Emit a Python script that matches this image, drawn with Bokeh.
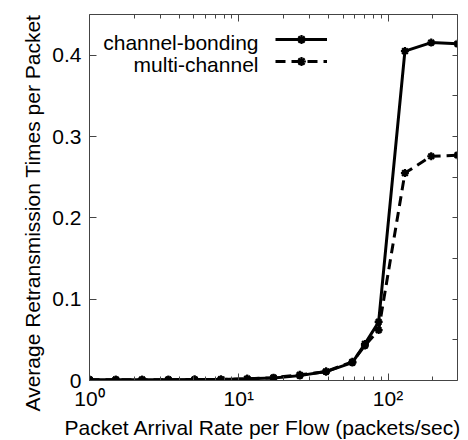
from bokeh.plotting import figure
from bokeh.models import (Range1d, LogAxis, LinearAxis, FixedTicker, Legend, LegendItem,
                          Label, Title, CustomJSTickFormatter)
from bokeh.embed import file_html
from bokeh.resources import INLINE

# ---- data ----
rate = [1.0, 1.5, 2.25, 3.375, 5.06, 7.59, 11.39, 17.09, 25.63, 38.44, 57.67, 70.0, 86.5, 129.7, 194.6, 291.9]
bonding = [0.001, 0.001, 0.001, 0.001, 0.0012, 0.0013, 0.002, 0.003, 0.006, 0.011, 0.022, 0.045, 0.072, 0.405, 0.4155, 0.414]
multich = [0.001, 0.001, 0.001, 0.001, 0.0012, 0.0013, 0.002, 0.0035, 0.007, 0.011, 0.023, 0.043, 0.062, 0.255, 0.2757, 0.277]

x_major = [1, 10, 100]
x_minor = [2, 3, 4, 5, 6, 7, 8, 9, 20, 30, 40, 50, 60, 70, 80, 90, 200]
x_labels = {1: "10⁰", 10: "10¹", 100: "10²"}
y_major = [0, 0.1, 0.2, 0.3, 0.4]
y_labels = {0: "0", 0.1: "0.1", 0.2: "0.2", 0.3: "0.3", 0.4: "0.4"}
y_right = [0, 0.05, 0.1, 0.15, 0.2, 0.25, 0.3, 0.35, 0.4, 0.45]
series_names = ["channel-bonding", "multi-channel"]
x_title = "Packet Arrival Rate per Flow (packets/sec)"
y_title = "Average Retransmission Times per Packet"

FONT = "Liberation Sans"
FS = "21px"
AX = "#444444"

p = figure(width=468, height=440, x_axis_type="log", y_axis_type="linear",
           x_range=Range1d(1, 291.93), y_range=Range1d(0, 0.45),
           output_backend="svg", toolbar_location=None,
           min_border_left=89, min_border_right=11, min_border_top=14, min_border_bottom=59)
p.outline_line_color = None
p.xgrid.visible = False
p.ygrid.visible = False
p.background_fill_color = "white"
p.border_fill_color = "white"

def style(ax, labels=True):
    ax.axis_line_color = AX
    ax.major_tick_line_color = AX
    ax.minor_tick_line_color = AX
    ax.major_tick_in = 7
    ax.major_tick_out = 0
    ax.minor_tick_in = 4
    ax.minor_tick_out = 0
    ax.major_label_text_font = FONT
    ax.major_label_text_font_size = FS
    ax.major_label_text_color = "black"
    if not labels:
        ax.formatter = CustomJSTickFormatter(code="return ''")

# x axes
xb = p.xaxis[0]
xb.ticker = FixedTicker(ticks=x_major, minor_ticks=x_minor)
style(xb)
xb.major_label_overrides = x_labels
xb.major_label_standoff = 6

xt = LogAxis(ticker=FixedTicker(ticks=x_major, minor_ticks=x_minor))
style(xt, labels=False)
xt.major_label_standoff = 0
p.add_layout(xt, "above")

# y axes
yl = p.yaxis[0]
yl.ticker = FixedTicker(ticks=y_major, minor_ticks=[])
style(yl)
yl.major_label_overrides = y_labels
yl.major_label_standoff = 8

yr = LinearAxis(ticker=FixedTicker(ticks=y_right, minor_ticks=[]))
style(yr, labels=False)
yr.major_tick_in = 5
yr.major_label_standoff = 0
p.add_layout(yr, "right")

# axis titles (offset as in the reference)
p.add_layout(Title(text=x_title, align="left", offset=-25, standoff=3,
                   text_font=FONT, text_font_size=FS, text_font_style="normal",
                   text_color="black"), "below")
p.add_layout(Title(text=y_title, align="left", offset=-31, standoff=12,
                   text_font=FONT, text_font_size=FS, text_font_style="normal",
                   text_color="black"), "left")

# series
l1 = p.line(rate, bonding, line_color="black", line_width=3)
m1 = p.scatter(rate, bonding, marker="asterisk", size=8, line_color="black", line_width=2.2)
l2 = p.line(rate, multich, line_color="black", line_width=3, line_dash="10 6")
m2 = p.scatter(rate, multich, marker="asterisk", size=8, line_color="black", line_width=2.2)

leg = Legend(items=[LegendItem(label=" ", renderers=[l1, m1]),
                    LegendItem(label=" ", renderers=[l2, m2])],
             location=(186, 308), orientation="vertical",
             glyph_width=52, glyph_height=22, label_width=0, label_height=0,
             label_standoff=0, label_text_font_size="1px", spacing=0, padding=0, margin=0,
             background_fill_alpha=0, border_line_color=None)
p.add_layout(leg, "center")

for i, name in enumerate(series_names):
    p.add_layout(Label(x=169, y=338 - 22 * i, x_units="screen", y_units="screen",
                       text=name, text_align="right", text_baseline="middle",
                       text_font=FONT, text_font_size=FS, text_color="black"))

open("out.html", "w").write(file_html(p, INLINE))
